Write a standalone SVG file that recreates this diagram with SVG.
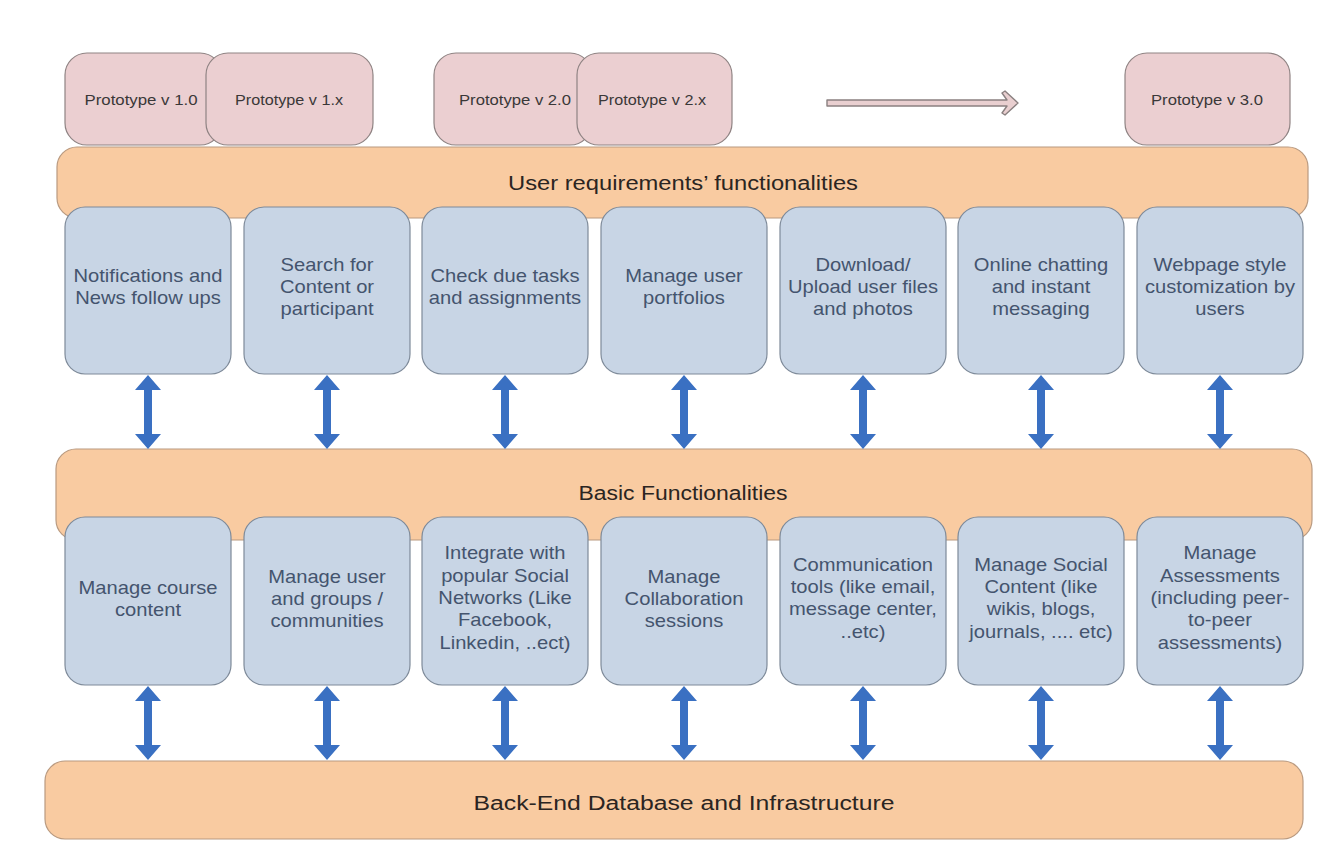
<svg xmlns="http://www.w3.org/2000/svg" xmlns:xlink="http://www.w3.org/1999/xlink" width="1326" height="844" viewBox="0 0 1326 844">
<style>
.band{fill:#F9CBA1;stroke:#B99A80;stroke-width:1.2}
.proto{fill:#EBCFD1;stroke:#8F8383;stroke-width:1.2}
.box{fill:#C8D5E5;stroke:#7E8A99;stroke-width:1.2}
.pt{font-family:"Liberation Sans",Arial,sans-serif;font-size:14px;fill:#3a3838;text-anchor:middle}
.bandt{font-family:"Liberation Sans",Arial,sans-serif;font-size:20px;fill:#2b2522;text-anchor:middle}
.bt{font-family:"Liberation Sans",Arial,sans-serif;font-size:18px;fill:#44546E;text-anchor:middle}
.darr{fill:#3A70C2}
</style>
<defs>
<path id="va" d="M0,0 L13,15 L4,15 L4,59 L13,59 L0,74 L-13,59 L-4,59 L-4,15 L-13,15 Z"/>
</defs>
<rect width="1326" height="844" fill="#ffffff"/>

<g id="band-user">
<rect class="band" x="57" y="147" width="1251" height="71" rx="20"/>
</g>
<g id="band-basic">
<rect class="band" x="56" y="449" width="1256" height="91" rx="20"/>
</g>
<g id="band-backend">
<rect class="band" x="45" y="761" width="1258" height="78" rx="20"/>
<text class="bandt" x="684" y="810" textLength="421" lengthAdjust="spacingAndGlyphs">Back-End Database and Infrastructure</text>
</g>

<g id="proto-v10"><rect class="proto" x="65" y="53" width="157" height="92" rx="22"/><text class="pt" x="141" y="105" textLength="113" lengthAdjust="spacingAndGlyphs">Prototype v 1.0</text></g>
<g id="proto-v1x"><rect class="proto" x="206" y="53" width="167" height="92" rx="22"/><text class="pt" x="289" y="105" textLength="108" lengthAdjust="spacingAndGlyphs">Prototype v 1.x</text></g>
<g id="proto-v20"><rect class="proto" x="434" y="53" width="158" height="92" rx="22"/><text class="pt" x="515" y="105" textLength="112" lengthAdjust="spacingAndGlyphs">Prototype v 2.0</text></g>
<g id="proto-v2x"><rect class="proto" x="577" y="53" width="155" height="92" rx="22"/><text class="pt" x="652" y="105" textLength="108" lengthAdjust="spacingAndGlyphs">Prototype v 2.x</text></g>
<g id="proto-v30"><rect class="proto" x="1125" y="53" width="165" height="92" rx="22"/><text class="pt" x="1207" y="105" textLength="112" lengthAdjust="spacingAndGlyphs">Prototype v 3.0</text></g>

<g id="band-user-label"><text class="bandt" x="683" y="190" textLength="350" lengthAdjust="spacingAndGlyphs">User requirements’ functionalities</text></g>
<g id="band-basic-label"><text class="bandt" x="683" y="500" textLength="209" lengthAdjust="spacingAndGlyphs">Basic Functionalities</text></g>

<g id="connectors">
<polygon points="827,100 1007,100 1002,93 1005,91 1018,103 1005,115 1002,113 1007,106 827,106" fill="#E9CFD0" stroke="#8A8080" stroke-width="1.4" stroke-linejoin="round"/>
<g class="darr">
<use xlink:href="#va" x="148" y="375"/>
<use xlink:href="#va" x="327" y="375"/>
<use xlink:href="#va" x="505" y="375"/>
<use xlink:href="#va" x="684" y="375"/>
<use xlink:href="#va" x="863" y="375"/>
<use xlink:href="#va" x="1041" y="375"/>
<use xlink:href="#va" x="1220" y="375"/>
<use xlink:href="#va" x="148" y="686"/>
<use xlink:href="#va" x="327" y="686"/>
<use xlink:href="#va" x="505" y="686"/>
<use xlink:href="#va" x="684" y="686"/>
<use xlink:href="#va" x="863" y="686"/>
<use xlink:href="#va" x="1041" y="686"/>
<use xlink:href="#va" x="1220" y="686"/>
</g>
</g>

<!-- Row 1 -->
<g id="u1"><rect class="box" x="65" y="207" width="166" height="167" rx="20"/>
<text class="bt" transform="translate(148 287) scale(1.12 1)"><tspan x="0" y="-5">Notifications and</tspan><tspan x="0" y="17">News follow ups</tspan></text></g>
<g id="u2"><rect class="box" x="244" y="207" width="166" height="167" rx="20"/>
<text class="bt" transform="translate(327 287) scale(1.12 1)"><tspan x="0" y="-16">Search for</tspan><tspan x="0" y="6">Content or</tspan><tspan x="0" y="28">participant</tspan></text></g>
<g id="u3"><rect class="box" x="422" y="207" width="166" height="167" rx="20"/>
<text class="bt" transform="translate(505 287) scale(1.12 1)"><tspan x="0" y="-5">Check due tasks</tspan><tspan x="0" y="17">and assignments</tspan></text></g>
<g id="u4"><rect class="box" x="601" y="207" width="166" height="167" rx="20"/>
<text class="bt" transform="translate(684 287) scale(1.12 1)"><tspan x="0" y="-5">Manage user</tspan><tspan x="0" y="17">portfolios</tspan></text></g>
<g id="u5"><rect class="box" x="780" y="207" width="166" height="167" rx="20"/>
<text class="bt" transform="translate(863 287) scale(1.12 1)"><tspan x="0" y="-16">Download/</tspan><tspan x="0" y="6">Upload user files</tspan><tspan x="0" y="28">and photos</tspan></text></g>
<g id="u6"><rect class="box" x="958" y="207" width="166" height="167" rx="20"/>
<text class="bt" transform="translate(1041 287) scale(1.12 1)"><tspan x="0" y="-16">Online chatting</tspan><tspan x="0" y="6">and instant</tspan><tspan x="0" y="28">messaging</tspan></text></g>
<g id="u7"><rect class="box" x="1137" y="207" width="166" height="167" rx="20"/>
<text class="bt" transform="translate(1220 287) scale(1.12 1)"><tspan x="0" y="-16">Webpage style</tspan><tspan x="0" y="6">customization by</tspan><tspan x="0" y="28">users</tspan></text></g>

<!-- Row 2 -->
<g id="b1"><rect class="box" x="65" y="517" width="166" height="168" rx="20"/>
<text class="bt" transform="translate(148 599) scale(1.12 1)"><tspan x="0" y="-5">Manage course</tspan><tspan x="0" y="17">content</tspan></text></g>
<g id="b2"><rect class="box" x="244" y="517" width="166" height="168" rx="20"/>
<text class="bt" transform="translate(327 599) scale(1.12 1)"><tspan x="0" y="-16">Manage user</tspan><tspan x="0" y="6">and groups /</tspan><tspan x="0" y="28">communities</tspan></text></g>
<g id="b3"><rect class="box" x="422" y="517" width="166" height="168" rx="20"/>
<text class="bt" transform="translate(505 598) scale(1.12 1)"><tspan x="0" y="-39">Integrate with</tspan><tspan x="0" y="-16.5">popular Social</tspan><tspan x="0" y="6">Networks (Like</tspan><tspan x="0" y="28.5">Facebook,</tspan><tspan x="0" y="51">Linkedin, ..ect)</tspan></text></g>
<g id="b4"><rect class="box" x="601" y="517" width="166" height="168" rx="20"/>
<text class="bt" transform="translate(684 599) scale(1.12 1)"><tspan x="0" y="-16">Manage</tspan><tspan x="0" y="6">Collaboration</tspan><tspan x="0" y="28">sessions</tspan></text></g>
<g id="b5"><rect class="box" x="780" y="517" width="166" height="168" rx="20"/>
<text class="bt" transform="translate(863 598) scale(1.12 1)"><tspan x="0" y="-27.5">Communication</tspan><tspan x="0" y="-5">tools (like email,</tspan><tspan x="0" y="17.5">message center,</tspan><tspan x="0" y="40">..etc)</tspan></text></g>
<g id="b6"><rect class="box" x="958" y="517" width="166" height="168" rx="20"/>
<text class="bt" transform="translate(1041 598) scale(1.12 1)"><tspan x="0" y="-27.5">Manage Social</tspan><tspan x="0" y="-5">Content (like</tspan><tspan x="0" y="17.5">wikis, blogs,</tspan><tspan x="0" y="40">journals, .... etc)</tspan></text></g>
<g id="b7"><rect class="box" x="1137" y="517" width="166" height="168" rx="20"/>
<text class="bt" transform="translate(1220 598) scale(1.12 1)"><tspan x="0" y="-39">Manage</tspan><tspan x="0" y="-16.5">Assessments</tspan><tspan x="0" y="6">(including peer-</tspan><tspan x="0" y="28.5">to-peer</tspan><tspan x="0" y="51">assessments)</tspan></text></g>
</svg>
